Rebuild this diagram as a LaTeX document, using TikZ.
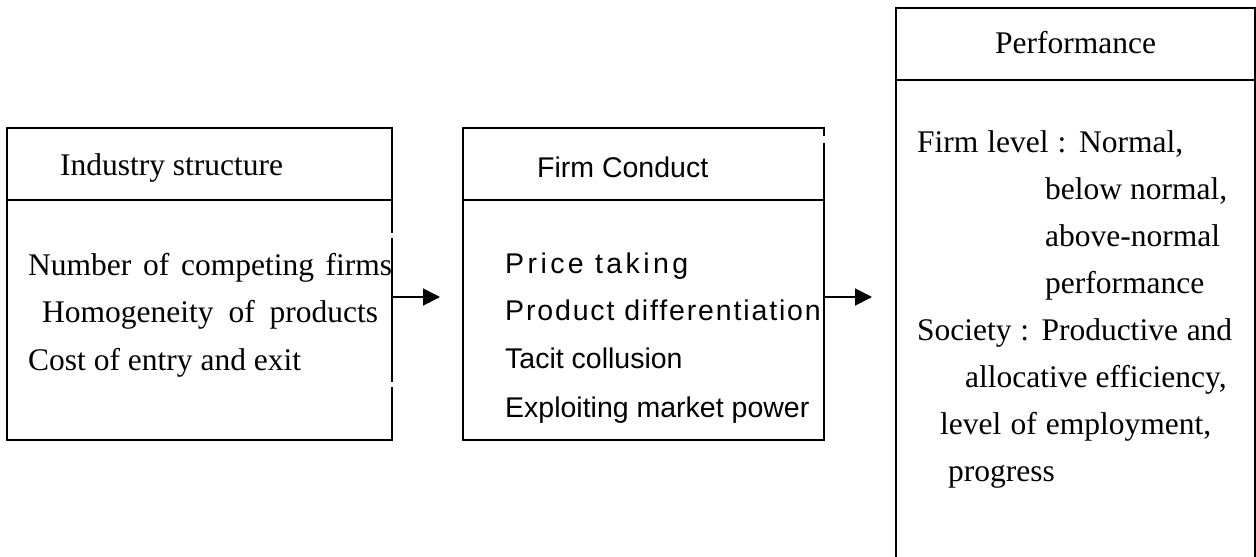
\documentclass[tikz,border=0pt]{standalone}
\usepackage{fontspec}
\setmainfont{Liberation Serif}
\newfontfamily\arialf{Liberation Sans}
\newfontfamily\arialspA[LetterSpace=12]{Liberation Sans}
\newfontfamily\arialspB[LetterSpace=6.5]{Liberation Sans}
\usetikzlibrary{arrows.meta}
\begin{document}
\begin{tikzpicture}[x=1pt,y=-1pt,
  box/.style={draw, line width=1.9pt, rectangle, inner sep=0pt},
  ser/.style={anchor=base west, inner sep=0pt, font=\fontsize{31.5pt}{37pt}\selectfont},
  san/.style={anchor=base west, inner sep=0pt, font=\fontsize{28.5pt}{34pt}\selectfont\arialf},
  conn/.style={line width=1.9pt, -{Triangle[length=17pt,width=17pt]}}]
\useasboundingbox (0,0) rectangle (1256,557);
% boxes
\node[box, minimum width=385pt, minimum height=312pt] (ind) at (199.5,284) {};
\node[box, minimum width=361pt, minimum height=312pt] (fc) at (643.5,284) {};
\draw[line width=1.9pt] (ind.west |- 0,200) -- (ind.east |- 0,200);
\draw[line width=1.9pt] (fc.west |- 0,200) -- (fc.east |- 0,200);
\draw[line width=1.9pt] (896,560) -- (896,8) -- (1255,8) -- (1255,560);
\draw[line width=1.9pt] (896,80) -- (1255,80);
% gaps in borders
\fill[white] (389,233) rectangle (396,238);
\fill[white] (389,382) rectangle (396,387);
\fill[white] (821,136) rectangle (828,143);
% left box text
\node[ser] (t1) at (60,175) {\makebox[223pt][s]{Industry structure}};
\node[ser] (t2) at (28,275) {\makebox[364pt][s]{Number of competing firms}};
\node[ser] (t3) at (42,322) {\makebox[336pt][s]{Homogeneity of products}};
\node[ser] (t4) at (28,370) {Cost of entry and exit};
% middle box text
\node[san] (m1) at (537,177) {Firm Conduct};
\node[san, font=\fontsize{28.5pt}{34pt}\selectfont\arialspA] (m2) at (505,273) {Price taking};
\node[san, font=\fontsize{28.5pt}{34pt}\selectfont\arialspB] (m3) at (505,320) {Product differentiation};
\node[san] (m4) at (505,368) {Tacit collusion};
\node[san] (m5) at (505,417) {Exploiting market power};
% right box text
\node[ser] (p0) at (995,53) {Performance};
\node[ser] (p1) at (917,152) {\makebox[266pt][s]{Firm level : Normal,}};
\node[ser] (p2) at (1045,199) {below normal,};
\node[ser] (p3) at (1045,246) {above-normal};
\node[ser] (p4) at (1045,293) {performance};
\node[ser] (p5) at (917,340) {\makebox[315pt][s]{Society : Productive and}};
\node[ser] (p6) at (965,387) {allocative efficiency,};
\node[ser] (p7) at (940,434) {\makebox[271pt][s]{level of employment,}};
\node[ser] (p8) at (948,481) {progress};
% connectors
\coordinate (a1) at (440,297);
\coordinate (a2) at (872,297);
\draw[conn] (ind.east |- a1) -- (a1);
\draw[conn] (fc.east |- a2) -- (a2);
\end{tikzpicture}
\end{document}
